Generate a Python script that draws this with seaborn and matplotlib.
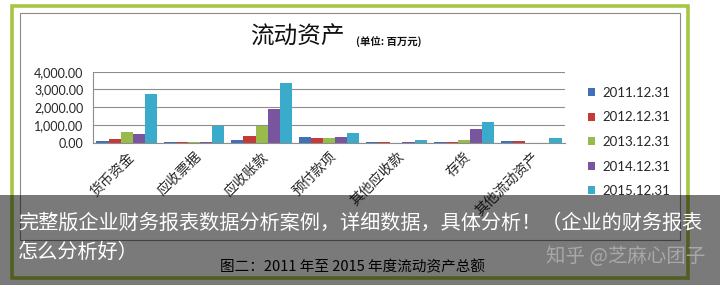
import matplotlib
matplotlib.use("Agg")
import matplotlib.pyplot as plt
from matplotlib.patches import Rectangle
import seaborn as sns
import pandas as pd

categories = ["货币资金", "应收票据", "应收账款", "预付款项", "其他应收款", "存货", "其他流动资产"]
years = ["2011.12.31", "2012.12.31", "2013.12.31", "2014.12.31", "2015.12.31"]
v2011 = [95, 25, 150, 320, 25, 30, 80]
v2012 = [206, 25, 375, 263, 25, 30, 80]
v2013 = [620, 20, 958, 263, 10, 150, 10]
v2014 = [507, 25, 1897, 320, 15, 750, 10]
v2015 = [2723, 958, 3343, 526, 150, 1145, 263]
yticks = [0, 1000, 2000, 3000, 4000]
colors = ["#3f70b8", "#c43a36", "#98bb4c", "#7a559f", "#3aabcb"]

rows = []
for y, vals in zip(years, [v2011, v2012, v2013, v2014, v2015]):
    for c, v in zip(categories, vals):
        rows.append({"cat": c, "year": y, "val": v})
df = pd.DataFrame(rows)

sns.set_style("white")
plt.rcParams["font.family"] = ["Noto Sans CJK SC", "DejaVu Sans"]

W, H = 720, 285
fig = plt.figure(figsize=(7.2, 2.85), dpi=100)
fig.patch.set_facecolor("white")
ax = fig.add_axes([93 / W, 1 - 142.7 / H, (565 - 93) / W, (142.7 - 71.7) / H])

sns.barplot(data=df, x="cat", y="val", hue="year", order=categories, hue_order=years,
            palette=colors, width=0.9, saturation=1, ax=ax, edgecolor="none", linewidth=0)

ax.set_ylim(0, 4000)
ax.set_xlim(-0.5, len(categories) - 0.5)
ax.set_yticks(yticks)
ax.set_yticklabels([f"{t:,.2f}" for t in yticks], family=["Lato", "DejaVu Sans"], fontsize=9)
ax.set_xticks(range(len(categories)))
ax.set_xticklabels(categories, rotation=45, ha="right", rotation_mode="anchor", fontsize=10)
ax.tick_params(axis="both", length=0)
ax.tick_params(axis="y", pad=7)
ax.tick_params(axis="x", pad=5)
ax.set_xlabel("")
ax.set_ylabel("")
ax.grid(axis="y", color="#8e8e8e", lw=0.8)
ax.set_axisbelow(True)
for s in ["top", "right"]:
    ax.spines[s].set_visible(False)
for s in ["left", "bottom"]:
    ax.spines[s].set_color("#8e8e8e")
    ax.spines[s].set_linewidth(0.8)

handles, labels = ax.get_legend_handles_labels()
ax.legend_.remove()
leg = fig.legend(handles, labels, loc="center left", bbox_to_anchor=(581 / W, 1 - 142 / H),
                 frameon=False, handlelength=0.55, handleheight=0.55,
                 handletextpad=0.6, labelspacing=0.95, borderpad=0,
                 prop={"family": ["Lato", "DejaVu Sans"], "size": 9.5})

# title
fig.text(297 / W, 1 - 37 / H, "流动资产", ha="center", va="center", fontsize=17, color="#111111")
fig.text(356 / W, 1 - 42 / H, "(单位: 百万元)", ha="left", va="center", fontsize=7.5,
         fontweight="bold", color="#111111")

# frames
fig.add_artist(Rectangle((12 / W, 1 - 278 / H), (688 - 12) / W, (278 - 6) / H,
                         transform=fig.transFigure, fill=False, edgecolor="#a6c743", lw=2.6))
fig.add_artist(Rectangle((20 / W, 1 - 240 / H), (680 - 20) / W, (240 - 13) / H,
                         transform=fig.transFigure, fill=False, edgecolor="#8a8a8a", lw=0.8))

# caption under overlay
fig.text(352 / W, 1 - 267 / H, "图二：2011 年至 2015 年度流动资产总额", ha="center", va="center",
         fontsize=10.5, color="#000000")

# overlay band
fig.add_artist(Rectangle((0, 0), 1, (285 - 195) / H, transform=fig.transFigure,
                         facecolor="#000000", alpha=0.52, edgecolor="none", zorder=20))

t1 = fig.text(18 / W, 1 - 223 / H, "完整版企业财务报表数据分析案例，详细数据，具体分析！（企业的财务报表",
              ha="left", va="center", fontsize=14.5, color="white")
t1.set_zorder(21)
t2 = fig.text(18 / W, 1 - 252 / H, "怎么分析好）", ha="left", va="center", fontsize=14.5, color="white")
t2.set_zorder(21)
t3 = fig.text(705 / W, 1 - 256 / H, "知乎 @芝麻心团子", ha="right", va="center", fontsize=14,
              color="#a8a8a8")
t3.set_zorder(21)

fig.savefig("out.png", dpi=100)
